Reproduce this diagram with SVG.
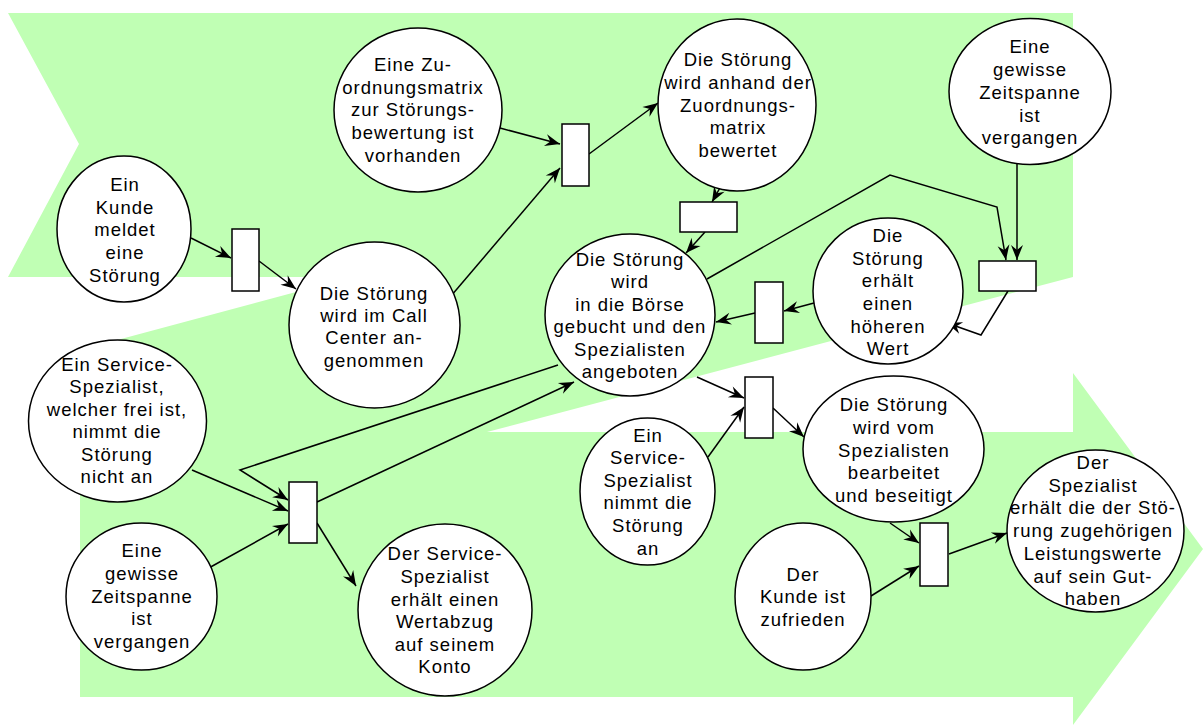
<svg xmlns="http://www.w3.org/2000/svg" width="1203" height="725" viewBox="0 0 1203 725">
<defs>
<style>
.bg{fill:#c0ffb4;stroke:none}
.pl{fill:#fff;stroke:#000;stroke-width:1.5}
.tr{fill:#fff;stroke:#000;stroke-width:1.5}
.t{font-family:"Liberation Sans",Arial,sans-serif;font-size:18.5px;letter-spacing:1px;text-anchor:middle;fill:#000}
.c{fill:none;stroke:#000;stroke-width:1.5;marker-end:url(#ah)}
</style>
<marker id="ah" markerUnits="userSpaceOnUse" markerWidth="20" markerHeight="16" viewBox="-16 -8 18 16" refX="0" refY="0" orient="auto">
<path d="M0,0 L-15,-6 L-10,0 L-15,6 Z" fill="#000"/>
</marker>
</defs>
<rect width="1203" height="725" fill="#fff"/>
<polygon class="bg" points="8,13 1073,13 1073,277 487,432 1073,432 1073,373 1203,549 1073,725 1073,697 80,697 80,350 352,277 8,277 79,144"/>

<g id="connectors">
<path class="c" d="M191,238 L231,258"/>
<path class="c" d="M259,261 L296,289"/>
<path class="c" d="M451,296 L560,168"/>
<path class="c" d="M500,128 L560,144"/>
<path class="c" d="M589,154 L658,103"/>
<path class="c" d="M721,186 L712,202"/>
<path class="c" d="M705,232 L686,253"/>
<path class="c" d="M707,279 L890,175 L997,207 L1006,260"/>
<path class="c" d="M1017,164 L1017,260"/>
<path class="c" d="M1008,291 L981,335 L947,323"/>
<path class="c" d="M814,303 L784,311"/>
<path class="c" d="M755,313 L716,322"/>
<path class="c" d="M697,377 L744,398"/>
<path class="c" d="M708,457 L744,407"/>
<path class="c" d="M773,408 L804,437"/>
<path class="c" d="M890,523 L919,543"/>
<path class="c" d="M871,596 L919,566"/>
<path class="c" d="M949,554 L1007,533"/>
<path class="c" d="M558,365 L240,470 L288,500"/>
<path class="c" d="M317,502 L574,382"/>
<path class="c" d="M192,470 L288,511"/>
<path class="c" d="M207,569 L288,524"/>
<path class="c" d="M317,523 L356,586"/>
</g>

<g id="p_kunde_meldet">
<ellipse class="pl" cx="124" cy="229" rx="67" ry="73"/>
<text class="t"><tspan x="125" y="191">Ein</tspan><tspan x="125" y="214">Kunde</tspan><tspan x="125" y="236">meldet</tspan><tspan x="125" y="259">eine</tspan><tspan x="125" y="282">Störung</tspan></text>
</g>
<g id="p_zuordnungsmatrix">
<ellipse class="pl" cx="418" cy="110" rx="84" ry="82"/>
<text class="t"><tspan x="413" y="71">Eine Zu-</tspan><tspan x="413" y="94">ordnungsmatrix</tspan><tspan x="413" y="116">zur Störungs-</tspan><tspan x="413" y="139">bewertung ist</tspan><tspan x="413" y="162">vorhanden</tspan></text>
</g>
<g id="p_bewertet">
<ellipse class="pl" cx="737" cy="105" rx="79" ry="86"/>
<text class="t"><tspan x="738" y="66">Die Störung</tspan><tspan x="738" y="89">wird anhand der</tspan><tspan x="738" y="112">Zuordnungs-</tspan><tspan x="738" y="134">matrix</tspan><tspan x="738" y="157">bewertet</tspan></text>
</g>
<g id="p_zeitspanne_1">
<ellipse class="pl" cx="1030" cy="91.5" rx="81" ry="73"/>
<text class="t"><tspan x="1030" y="53">Eine</tspan><tspan x="1030" y="76">gewisse</tspan><tspan x="1030" y="99">Zeitspanne</tspan><tspan x="1030" y="122">ist</tspan><tspan x="1030" y="144">vergangen</tspan></text>
</g>
<g id="p_call_center">
<ellipse class="pl" cx="374.5" cy="325" rx="85.5" ry="83"/>
<text class="t"><tspan x="374" y="300">Die Störung</tspan><tspan x="374" y="322">wird im Call</tspan><tspan x="374" y="344">Center an-</tspan><tspan x="374" y="367">genommen</tspan></text>
</g>
<g id="p_boerse">
<ellipse class="pl" cx="630" cy="315" rx="85" ry="81"/>
<text class="t"><tspan x="630" y="266">Die Störung</tspan><tspan x="630" y="288">wird</tspan><tspan x="630" y="311">in die Börse</tspan><tspan x="630" y="333">gebucht und den</tspan><tspan x="630" y="356">Spezialisten</tspan><tspan x="630" y="378">angeboten</tspan></text>
</g>
<g id="p_hoeherer_wert">
<ellipse class="pl" cx="888" cy="291" rx="75" ry="73"/>
<text class="t"><tspan x="888" y="242">Die</tspan><tspan x="888" y="265">Störung</tspan><tspan x="888" y="287">erhält</tspan><tspan x="888" y="310">einen</tspan><tspan x="888" y="333">höheren</tspan><tspan x="888" y="355">Wert</tspan></text>
</g>
<g id="p_nicht_an">
<ellipse class="pl" cx="117.5" cy="421" rx="89" ry="81"/>
<text class="t"><tspan x="117" y="371">Ein Service-</tspan><tspan x="117" y="393">Spezialist,</tspan><tspan x="117" y="416">welcher frei ist,</tspan><tspan x="117" y="438">nimmt die</tspan><tspan x="117" y="461">Störung</tspan><tspan x="117" y="483">nicht an</tspan></text>
</g>
<g id="p_zeitspanne_2">
<ellipse class="pl" cx="141.5" cy="596.5" rx="75.5" ry="73.5"/>
<text class="t"><tspan x="142" y="557">Eine</tspan><tspan x="142" y="580">gewisse</tspan><tspan x="142" y="603">Zeitspanne</tspan><tspan x="142" y="625">ist</tspan><tspan x="142" y="648">vergangen</tspan></text>
</g>
<g id="p_wertabzug">
<ellipse class="pl" cx="445" cy="610" rx="87" ry="86"/>
<text class="t"><tspan x="445" y="560">Der Service-</tspan><tspan x="445" y="583">Spezialist</tspan><tspan x="445" y="606">erhält einen</tspan><tspan x="445" y="628">Wertabzug</tspan><tspan x="445" y="651">auf seinem</tspan><tspan x="445" y="673">Konto</tspan></text>
</g>
<g id="p_nimmt_an">
<ellipse class="pl" cx="647.5" cy="491.5" rx="67.5" ry="73.5"/>
<text class="t"><tspan x="648" y="442">Ein</tspan><tspan x="648" y="464">Service-</tspan><tspan x="648" y="487">Spezialist</tspan><tspan x="648" y="509">nimmt die</tspan><tspan x="648" y="532">Störung</tspan><tspan x="648" y="555">an</tspan></text>
</g>
<g id="p_bearbeitet">
<ellipse class="pl" cx="893.5" cy="449" rx="90.5" ry="73"/>
<text class="t"><tspan x="894" y="411">Die Störung</tspan><tspan x="894" y="434">wird vom</tspan><tspan x="894" y="457">Spezialisten</tspan><tspan x="894" y="479">bearbeitet</tspan><tspan x="894" y="502">und beseitigt</tspan></text>
</g>
<g id="p_zufrieden">
<ellipse class="pl" cx="803" cy="596.5" rx="68" ry="73.5"/>
<text class="t"><tspan x="803" y="581">Der</tspan><tspan x="803" y="603">Kunde ist</tspan><tspan x="803" y="626">zufrieden</tspan></text>
</g>
<g id="p_guthaben">
<ellipse class="pl" cx="1095.5" cy="531" rx="88.5" ry="81"/>
<text class="t"><tspan x="1093" y="469">Der</tspan><tspan x="1093" y="492">Spezialist</tspan><tspan x="1093" y="514">erhält die der Stö-</tspan><tspan x="1093" y="537">rung zugehörigen</tspan><tspan x="1093" y="560">Leistungswerte</tspan><tspan x="1093" y="583">auf sein Gut-</tspan><tspan x="1093" y="605">haben</tspan></text>
</g>

<g id="t1"><rect class="tr" x="232" y="229" width="27" height="62"/></g>
<g id="t2"><rect class="tr" x="562" y="124" width="27" height="62"/></g>
<g id="t3"><rect class="tr" x="680" y="202" width="57" height="30"/></g>
<g id="t4"><rect class="tr" x="979" y="261" width="57" height="30"/></g>
<g id="t5"><rect class="tr" x="755" y="282" width="28" height="61"/></g>
<g id="t6"><rect class="tr" x="745" y="377" width="28" height="61"/></g>
<g id="t7"><rect class="tr" x="289" y="482" width="28" height="61"/></g>
<g id="t8"><rect class="tr" x="920" y="523" width="28" height="63"/></g>
</svg>
